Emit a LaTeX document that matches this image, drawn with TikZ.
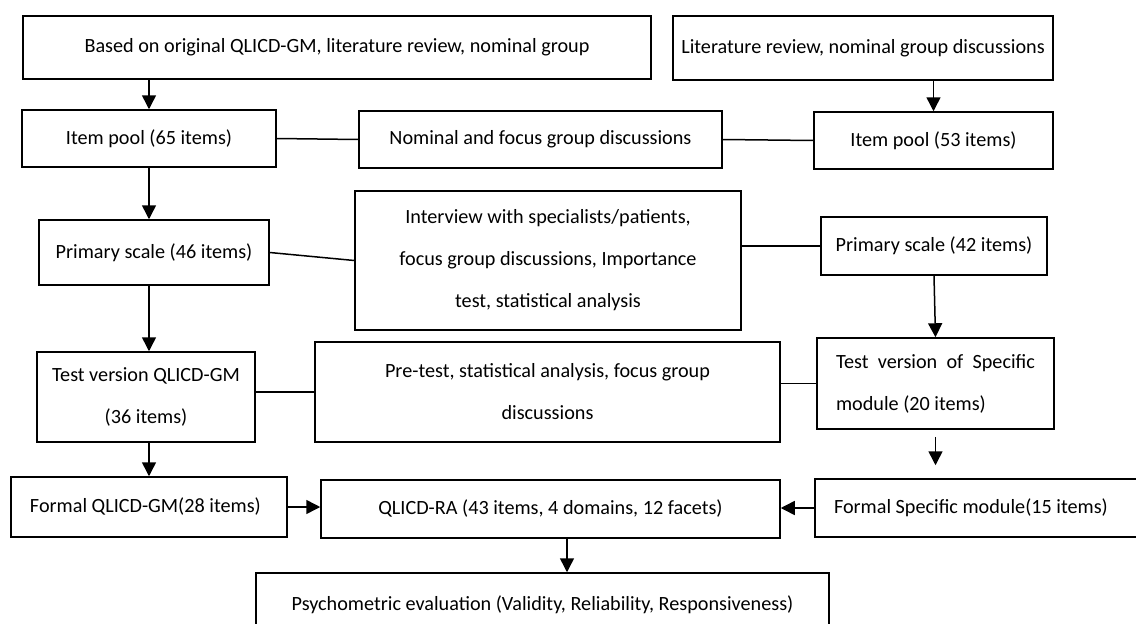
\documentclass[tikz,border=0pt]{standalone}
\usepackage{fontspec}
\setmainfont{Carlito}
\usetikzlibrary{arrows.meta}

\begin{document}
\begin{tikzpicture}[x=1pt, y=-1pt, line width=1.5pt, >={Triangle[width=14pt,length=14pt]},
		box/.style={draw, rectangle, inner sep=0pt, align=center, font=\fontsize{20.2}{42}\selectfont}]
	\useasboundingbox (0,0) rectangle (1136,624);
	\node (basis) [box, minimum width=628pt, minimum height=63pt] at (337,47.5) {Based on original QLICD-GM, literature review, nominal group};
	\node (literatur) [box, minimum width=380pt, minimum height=64pt] at (863,48) {Literature review, nominal group discussions};
	\node (pool65) [box, minimum width=254pt, minimum height=57pt] at (149,138.5) {Item pool (65 items)};
	\node (nominal) [box, minimum width=363pt, minimum height=57pt] at (540.5,139.5) {Nominal and focus group discussions};
	\node (pool53) [box, minimum width=239pt, minimum height=57pt] at (933.5,140.5) {Item pool (53 items)};
	\node (primaer46) [box, minimum width=230pt, minimum height=65pt] at (154,252.5) {Primary scale (46 items)};
	\node (interview) [box, minimum width=386pt, minimum height=139pt] at (548,260.5) {Interview with specialists/patients,\\focus group discussions, Importance\\test, statistical analysis};
	\node (primaer42) [box, minimum width=226pt, minimum height=58pt] at (934,246) {Primary scale (42 items)};
	\node (testgm) [box, minimum width=218pt, minimum height=90pt] at (146,397) {Test version QLICD-GM\\(36 items)};
	\node (pretest) [box, minimum width=465pt, minimum height=100pt] at (547.5,392) {Pre-test, statistical analysis, focus group\\discussions};
	\node (testspez) [box, minimum width=237pt, minimum height=91pt, inner xsep=19pt, text width=199pt, align=justify] at (935.5,383.5) {Test version of Specific module (20 items)};
	\node (formalgm) [box, minimum width=276pt, minimum height=60pt, inner xsep=19pt, text width=238pt, align=flush left] at (149,507) {Formal QLICD-GM(28 items)};
	\node (qlicdra) [box, minimum width=459pt, minimum height=58pt] at (550.5,509) {QLICD-RA (43 items, 4 domains, 12 facets)};
	\node (formalspez) [box, minimum width=325pt, minimum height=58pt, inner xsep=19pt, text width=287pt, align=flush left] at (977.5,508) {Formal Specific module(15 items)};
	\node (psycho) [box, minimum width=573pt, minimum height=64pt] at (542.5,605) {Psychometric evaluation (Validity, Reliability, Responsiveness)};
	\coordinate (links) at (149,0);
	\coordinate (mitte) at (567,0);

	\draw[->] (basis.south -| links) -- (pool65.north -| links);
	\draw[->] (literatur.south -| pool53.north) -- (pool53.north);
	\draw (pool65.east) -- (nominal.west);
	\draw (nominal.east) -- (pool53.west);
	\draw[->] (pool65.south -| links) -- (primaer46.north -| links);
	\draw (primaer46.east) -- (interview.west);
	\draw (primaer42.west) -- (primaer42.west -| interview.east);
	\draw[->] (primaer46.south -| links) -- (testgm.north -| links);
	\draw[->] (primaer42.south) -- (testspez.north);
	\draw (pretest.west) -- (pretest.west -| testgm.east);
	\draw (testspez.west) -- (testspez.west -| pretest.east);
	\draw[->] (testgm.south -| links) -- (formalgm.north -| links);
	\draw[->, shorten <=7pt, shorten >=13pt] (testspez.south) -- (testspez.south |- formalspez.north);
	\draw[->] (formalgm.east) -- (formalgm.east -| qlicdra.west);
	\draw[->] (formalspez.west) -- (formalspez.west -| qlicdra.east);
	\draw[->] (qlicdra.south -| mitte) -- (psycho.north -| mitte);
\end{tikzpicture}
\end{document}
